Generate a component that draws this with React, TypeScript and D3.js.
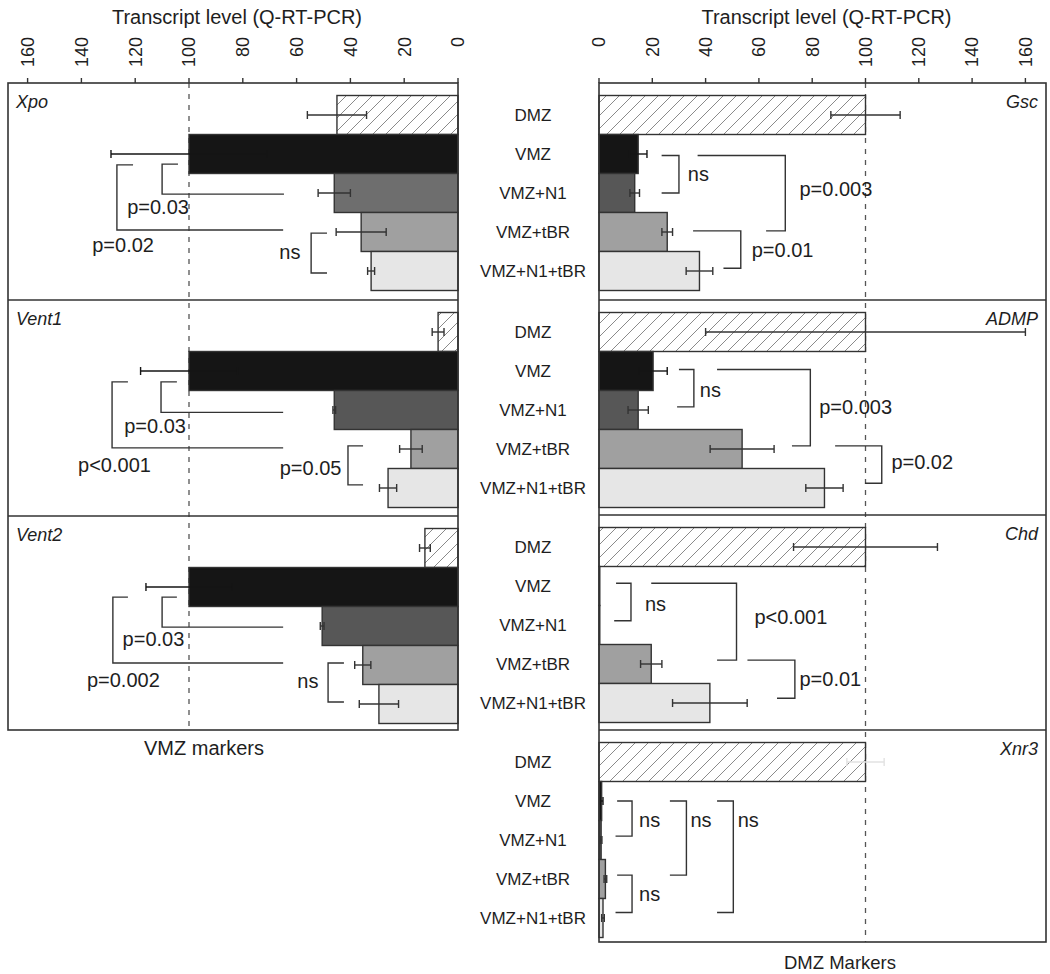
import React from "react";
import * as d3 from "d3";

const categories = ["DMZ", "VMZ", "VMZ+N1", "VMZ+tBR", "VMZ+N1+tBR"];
const ticks = [0, 20, 40, 60, 80, 100, 120, 140, 160];

const xpoValues = [45, 100, 46, 36, 32.3];
const xpoErrors = [11, 29, 6, 9.3, 1.3];
const vent1Values = [7.4, 100, 46, 17.5, 26];
const vent1Errors = [2.2, 18, 0.5, 4.2, 3.2];
const vent2Values = [12.3, 100, 50.5, 35.4, 29.4];
const vent2Errors = [2, 16, 0.7, 3, 7.3];

const gscValues = [100, 14.7, 13.4, 25.6, 37.7];
const gscErrors = [13, 3.3, 1.8, 2, 5];
const admpValues = [100, 20.3, 14.7, 53.7, 84.6];
const admpErrors = [60, 5.3, 3.8, 12, 7];
const chdValues = [100, 0.3, 0.3, 19.6, 41.6];
const chdErrors = [27, 0, 0, 4, 14];
const xnr3Values = [100, 1, 0.8, 2.4, 1.5];
const xnr3Errors = [7, 0.5, 0.3, 0.5, 0.5];

// brackets: t/b = category position (top/bottom), v = vertical line value, a1/a2 = arm ends, lx/ly = label position
const xpoBrackets = [
  { t: 1.76, b: 2.53, v: 110, a1: 104.1, a2: 64.7, label: "p=0.03", lx: 111.5, ly: 2.86 },
  { t: 1.78, b: 3.45, v: 126.8, a1: 120.8, a2: 65, label: "p=0.02", lx: 124.5, ly: 3.83 },
  { t: 3.53, b: 4.55, v: 54.6, a1: 48.7, a2: 48.7, label: "ns", lx: 62.5, ly: 4.01 },
];
const vent1Brackets = [
  { t: 1.78, b: 2.56, v: 110.4, a1: 104.5, a2: 65, label: "p=0.03", lx: 112.6, ly: 2.91 },
  { t: 1.78, b: 3.47, v: 128.6, a1: 122.7, a2: 65, label: "p<0.001", lx: 127.7, ly: 3.91 },
  { t: 3.42, b: 4.42, v: 40.9, a1: 35.3, a2: 35.3, label: "p=0.05", lx: 54.8, ly: 3.99 },
];
const vent2Brackets = [
  { t: 1.76, b: 2.53, v: 110, a1: 104.5, a2: 65, label: "p=0.03", lx: 113.2, ly: 2.83 },
  { t: 1.76, b: 3.45, v: 128.3, a1: 122.7, a2: 65, label: "p=0.002", lx: 124.4, ly: 3.88 },
  { t: 3.45, b: 4.45, v: 48.3, a1: 42.4, a2: 42.4, label: "ns", lx: 55.8, ly: 3.91 },
];
const gscBrackets = [
  { t: 1.54, b: 2.5, v: 30, a1: 23.5, a2: 23.5, label: "ns", lx: 37.3, ly: 2.01 },
  { t: 1.54, b: 3.47, v: 69.9, a1: 37, a2: 62.7, label: "p=0.003", lx: 88.9, ly: 2.4 },
  { t: 3.47, b: 4.43, v: 53.2, a1: 35.3, a2: 46.7, label: "p=0.01", lx: 68.9, ly: 3.96 },
];
const admpBrackets = [
  { t: 1.46, b: 2.42, v: 35.6, a1: 30, a2: 29.3, label: "ns", lx: 41.8, ly: 1.99 },
  { t: 1.46, b: 3.42, v: 79.3, a1: 44.3, a2: 72.4, label: "p=0.003", lx: 96.3, ly: 2.42 },
  { t: 3.42, b: 4.38, v: 106.1, a1: 88.6, a2: 99.8, label: "p=0.02", lx: 121.3, ly: 3.83 },
];
const chdBrackets = [
  { t: 1.43, b: 2.39, v: 12, a1: 6.4, a2: 5.7, label: "ns", lx: 21.2, ly: 1.96 },
  { t: 1.43, b: 3.4, v: 51.6, a1: 19.6, a2: 44.3, label: "p<0.001", lx: 72, ly: 2.29 },
  { t: 3.4, b: 4.38, v: 73.5, a1: 55.7, a2: 66.8, label: "p=0.01", lx: 86.8, ly: 3.89 },
];
const xnr3Brackets = [
  { t: 1.5, b: 2.4, v: 12.4, a1: 6.8, a2: 6.2, label: "ns", lx: 19, ly: 1.99 },
  { t: 1.5, b: 3.4, v: 32.8, a1: 26.6, a2: 26.6, label: "ns", lx: 38.3, ly: 1.99 },
  { t: 1.5, b: 4.36, v: 50.4, a1: 44.3, a2: 44.3, label: "ns", lx: 56, ly: 1.99 },
  { t: 3.4, b: 4.36, v: 12.4, a1: 6.8, a2: 6.2, label: "ns", lx: 19, ly: 3.88 },
];

const leftPanels = [
  { gene: "Xpo", values: xpoValues, errors: xpoErrors, brackets: xpoBrackets, n1Color: "#6e6e6e" },
  { gene: "Vent1", values: vent1Values, errors: vent1Errors, brackets: vent1Brackets, n1Color: "#575757" },
  { gene: "Vent2", values: vent2Values, errors: vent2Errors, brackets: vent2Brackets, n1Color: "#575757" },
];
const rightPanels = [
  { gene: "Gsc", values: gscValues, errors: gscErrors, brackets: gscBrackets, n1Color: "#575757" },
  { gene: "ADMP", values: admpValues, errors: admpErrors, brackets: admpBrackets, n1Color: "#575757" },
  { gene: "Chd", values: chdValues, errors: chdErrors, brackets: chdBrackets, n1Color: "#575757" },
  { gene: "Xnr3", values: xnr3Values, errors: xnr3Errors, brackets: xnr3Brackets, n1Color: "#575757", faintDmzErr: true },
];

const FONT = "'Liberation Sans', Arial, Helvetica, sans-serif";
const INK = "#1e1e1e";

const W = 1050;
const H = 974;

const leftX = d3.scaleLinear().domain([0, 100]).range([458, 189]);
const rightX = d3.scaleLinear().domain([0, 100]).range([599, 865.5]);
const leftFrame = { x0: 8, x1: 458, tops: [83, 300, 516], bottom: 730 };
const rightFrame = { x0: 599, x1: 1046, tops: [83, 300, 515, 730], bottom: 942 };

function Panel({ panel, top, x, side, frameX0, frameX1 }: any) {
  const yBand = d3.scaleBand().domain(categories).range([top + 12.5, top + 12.5 + 195]);
  const yPos = d3.scaleLinear().domain([0, 5]).range([top + 12.5, top + 12.5 + 195]);
  const fills = ["url(#hatch)", "#151515", panel.n1Color, "#a0a0a0", "#e6e6e6"];
  const x0 = x(0);
  const bw = yBand.bandwidth();
  return (
    <g>
      {panel.values.map((v: number, i: number) => {
        const xv = x(v);
        return (
          <rect
            key={"b" + i}
            x={Math.min(x0, xv)}
            y={yBand(categories[i])}
            width={Math.abs(xv - x0)}
            height={bw}
            fill={fills[i]}
            stroke="#333"
            strokeWidth={1.4}
          />
        );
      })}
      {panel.values.map((v: number, i: number) => {
        const e = panel.errors[i];
        if (!e) return null;
        const cy = (yBand(categories[i]) as number) + bw / 2;
        const xa = x(v - e);
        const xb = x(v + e);
        const col = panel.faintDmzErr && i === 0 ? "#e2e2e2" : i === 1 ? "#151515" : "#333";
        return (
          <g key={"e" + i} stroke={col} strokeWidth={1.4}>
            <line x1={xa} x2={xb} y1={cy} y2={cy} />
            <line x1={xa} x2={xa} y1={cy - 4} y2={cy + 4} />
            <line x1={xb} x2={xb} y1={cy - 4} y2={cy + 4} />
          </g>
        );
      })}
      {panel.brackets.map((b: any, i: number) => {
        const yt = yPos(b.t);
        const yb = yPos(b.b);
        const xv = x(b.v);
        return (
          <g key={"k" + i}>
            <path
              d={`M${x(b.a1)},${yt}H${xv}V${yb}H${x(b.a2)}`}
              fill="none"
              stroke="#333"
              strokeWidth={1.4}
            />
            <text
              x={x(b.lx)}
              y={yPos(b.ly)}
              dy="0.35em"
              textAnchor="middle"
              fontSize={20}
              fill={INK}
            >
              {b.label}
            </text>
          </g>
        );
      })}
      <text
        x={side === "left" ? frameX0 + 8 : frameX1 - 8}
        y={top + 19}
        dy="0.35em"
        textAnchor={side === "left" ? "start" : "end"}
        fontSize={18}
        fontStyle="italic"
        fill={INK}
      >
        {panel.gene}
      </text>
    </g>
  );
}

function Side({ panels, frame, x, side }: any) {
  const tops = frame.tops;
  return (
    <g>
      <line
        x1={x(100)}
        x2={x(100)}
        y1={frame.tops[0]}
        y2={frame.bottom}
        stroke="#555"
        strokeWidth={1.3}
        strokeDasharray="5,6"
      />
      {panels.map((p: any, i: number) => (
        <Panel
          key={p.gene}
          panel={p}
          top={tops[i]}
          x={x}
          side={side}
          frameX0={frame.x0}
          frameX1={frame.x1}
        />
      ))}
      <rect
        x={frame.x0}
        y={frame.tops[0]}
        width={frame.x1 - frame.x0}
        height={frame.bottom - frame.tops[0]}
        fill="none"
        stroke="#333"
        strokeWidth={1.6}
      />
      {tops.slice(1).map((t: number) => (
        <line key={t} x1={frame.x0} x2={frame.x1} y1={t} y2={t} stroke="#333" strokeWidth={1.6} />
      ))}
      {ticks.map((t) => (
        <g key={t}>
          <line x1={x(t)} x2={x(t)} y1={frame.tops[0]} y2={frame.tops[0] - 5} stroke="#333" strokeWidth={1.4} />
          <text
            transform={`translate(${x(t)},37) rotate(-90)`}
            dy="0.35em"
            textAnchor="end"
            fontSize={18}
            fill={INK}
          >
            {t}
          </text>
        </g>
      ))}
      <text
        x={(frame.x0 + frame.x1) / 2 + 4}
        y={17}
        dy="0.35em"
        textAnchor="middle"
        fontSize={20}
        fill={INK}
      >
        Transcript level (Q-RT-PCR)
      </text>
    </g>
  );
}

export default function App() {
  return (
    <svg
      width={W}
      height={H}
      style={{ position: "absolute", left: 0, top: 0, display: "block", fontFamily: FONT, background: "#fff" }}
    >
      <defs>
        <pattern id="hatch" patternUnits="userSpaceOnUse" width={13} height={13}>
          <rect width={13} height={13} fill="#fff" />
          <path d="M0,13 L13,0 M-3,3 L3,-3 M10,16 L16,10" stroke="#8a8a8a" strokeWidth={1} />
        </pattern>
      </defs>
      <Side panels={leftPanels} frame={leftFrame} x={leftX} side="left" />
      <Side panels={rightPanels} frame={rightFrame} x={rightX} side="right" />
      {rightFrame.tops.map((t: number, pi: number) => {
        const yb = d3.scaleBand().domain(categories).range([t + 12.5, t + 12.5 + 195]);
        return categories.map((c) => (
          <text
            key={pi + c}
            x={533}
            y={(yb(c) as number) + yb.bandwidth() / 2}
            dy="0.35em"
            textAnchor="middle"
            fontSize={17}
            fill={INK}
          >
            {c}
          </text>
        ));
      })}
      <text x={204} y={748} dy="0.35em" textAnchor="middle" fontSize={20} fill={INK}>
        VMZ markers
      </text>
      <text x={840} y={963} dy="0.35em" textAnchor="middle" fontSize={18.5} fill={INK}>
        DMZ Markers
      </text>
    </svg>
  );
}
